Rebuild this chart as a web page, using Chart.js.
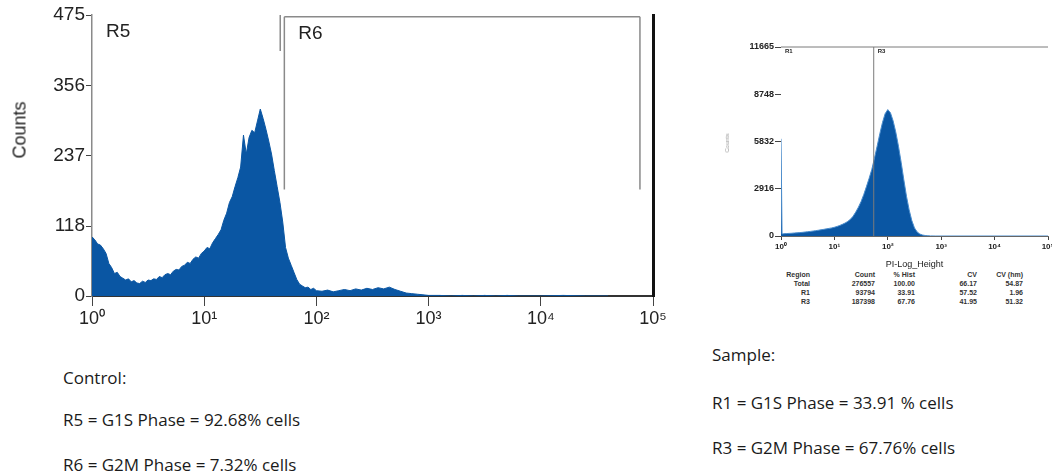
<!DOCTYPE html>
<html>
<head>
<meta charset="utf-8">
<script src="https://cdn.jsdelivr.net/npm/chart.js@4.4.1/dist/chart.umd.min.js"></script>
<style>
  html, body { margin: 0; padding: 0; background: #fff; }
  body { position: relative; width: 1052px; height: 472px; overflow: hidden; font-family: "Liberation Sans", Arial, sans-serif; }
  #controlBox { position: absolute; left: 0; top: 0; width: 680px; height: 340px; }
  #sampleBox { position: absolute; left: 720px; top: 30px; width: 360px; height: 240px; }
  .ylab { position: absolute; white-space: nowrap; transform: translate(-50%, -50%) rotate(-90deg); }
  .note { position: absolute; font-family: "Open Sans", sans-serif; font-size: 17px; line-height: 20px; color: #1a1a1a; white-space: nowrap; }
  .cell { position: absolute; font-size: 7px; font-weight: bold; color: #333; white-space: nowrap; transform: translateX(-100%); line-height: 8px; }
</style>
</head>
<body>
<div id="controlBox"><canvas id="controlChart" width="680" height="340"></canvas></div>
<div id="sampleBox"><canvas id="sampleChart" width="360" height="240"></canvas></div>

<div class="ylab" style="left:20px;top:130px;font-size:18px;color:#222;">Counts</div>
<div class="ylab" style="left:727px;top:143px;font-size:6px;color:#999;">Counts</div>

<div id="statTable"></div>

<div class="note" style="left:63px;top:368px;">Control:</div>
<div class="note" style="left:63px;top:410px;">R5 = G1S Phase = 92.68% cells</div>
<div class="note" style="left:63px;top:455px;">R6 = G2M Phase = 7.32% cells</div>
<div class="note" style="left:712px;top:345px;">Sample:</div>
<div class="note" style="left:712px;top:393px;">R1 = G1S Phase = 33.91 % cells</div>
<div class="note" style="left:712px;top:438px;">R3 = G2M Phase = 67.76% cells</div>

<script>
// control histogram (fluorescence channel, counts)
const controlChannel = [
  1, 1.059, 1.122, 1.189, 1.259, 1.334, 1.413, 1.496, 1.585, 1.679,
  1.778, 1.884, 1.995, 2.113, 2.239, 2.371, 2.512, 2.661, 2.818, 2.985,
  3.162, 3.350, 3.548, 3.758, 3.981, 4.217, 4.467, 4.732, 5.012, 5.309,
  5.623, 5.957, 6.310, 6.683, 7.079, 7.499, 7.943, 8.414, 8.913, 9.441,
  10, 10.59, 11.22, 11.89, 12.59, 13.34, 14.13, 14.96, 15.85, 16.79,
  17.78, 18.84, 19.95, 21.13, 22.39, 23.71, 25.12, 26.61, 28.18, 29.85,
  31.62, 33.50, 35.48, 37.58, 39.81, 42.17, 44.67, 47.32, 50.12, 53.09,
  56.23, 59.57, 63.10, 66.83, 70.79, 74.99, 79.43, 84.14, 89.13, 94.41,
  100, 112.2, 125.9, 141.3, 158.5, 177.8, 199.5, 223.9, 251.2, 281.8,
  316.2, 354.8, 398.1, 446.7, 501.2, 562.3, 631.0, 707.9, 794.3, 891.3,
  1000, 1259, 1585, 1995, 2512, 3162, 3981, 5012, 6310, 10000, 15850, 25120, 39810
];
const controlCounts = [
  100, 95, 88, 86, 80, 72, 55, 48, 38, 40,
  33, 30, 27, 29, 24, 26, 22, 21, 25, 23,
  27, 26, 29, 28, 33, 31, 36, 38, 36, 42,
  45, 44, 50, 52, 57, 55, 62, 66, 64, 72,
  76, 82, 80, 90, 97, 104, 112, 128, 140, 158,
  168, 185, 200, 218, 272, 240, 268, 280, 276, 296,
  316, 300, 282, 262, 240, 212, 185, 158, 125, 82,
  64, 52, 40, 28, 20, 17, 14, 15, 11, 13,
  9, 8, 10, 7, 9, 11, 9, 12, 10, 13,
  11, 14, 12, 15, 11, 8, 5, 4, 3, 2,
  1, 1, 0, 1, 0, 1, 0, 1, 0, 0, 1, 0, 0
];
const controlYTicks = [0, 118, 237, 356, 475];

// sample histogram
const sampleChannel = [
  1, 1.047, 1.122, 1.259, 1.413, 1.585, 1.778, 1.995, 2.239, 2.512,
  2.818, 3.162, 3.548, 3.981, 4.467, 5.012, 5.623, 6.310, 7.079, 7.943,
  8.913, 10, 11.22, 12.59, 14.13, 15.85, 17.78, 19.95, 22.39, 25.12,
  28.18, 31.62, 35.48, 39.81, 44.67, 50.12, 56.23, 63.10, 70.79, 79.43,
  89.13, 100, 112.2, 125.9, 141.3, 158.5, 177.8, 199.5, 223.9, 251.2,
  281.8, 316.2, 354.8, 398.1, 446.7, 501.2, 562.3, 631.0, 794.3, 100000
];
const sampleCounts = [
  6000, 130, 140, 150, 160, 170, 185, 195, 210, 225,
  245, 265, 285, 305, 330, 355, 385, 410, 440, 470,
  500, 540, 590, 650, 720, 800, 900, 1030, 1220, 1480,
  1780, 2130, 2560, 3050, 3560, 4100, 4800, 5540, 6300, 7000,
  7550, 7800, 7600, 7100, 6400, 5540, 4550, 3470, 2450, 1610,
  950, 500, 250, 120, 60, 30, 15, 5, 0, 0
];
const sampleYTicks = [0, 2916, 5832, 8748, 11665];

const decadeTicks = [1, 10, 100, 1000, 10000, 100000];
const decadeLabels = ['10\u2070', '10\u00b9', '10\u00b2', '10\u00b3', '10\u2074', '10\u2075'];

// gating regions (channel bounds, count levels)
const controlRegions = [
  { name: 'R5', from: 1, to: 47.6, level: 475, bar: false, rightDrop: 414 },
  { name: 'R6', from: 51.8, to: 76500, level: 472, bar: true, leftDrop: 180, rightDrop: 180 }
];
const sampleRegions = [
  { name: 'R1', from: 1, to: 100000, level: 11665, bar: true },
  { name: 'R3', from: 54.5, to: 100000, level: 11665, bar: false, leftDrop: 0 }
];

// region table under sample plot
const tableHeader = ['Region', 'Count', '% Hist', 'CV', 'CV (hm)'];
const tableRows = [
  ['Total', '276557', '100.00', '66.17', '54.87'],
  ['R1', '93794', '33.91', '57.52', '1.96'],
  ['R3', '187398', '67.76', '41.95', '51.32']
];

const histBlue = '#0a56a3';

const regionPlugin = {
  id: 'regions',
  afterDatasetsDraw(chart, args, opts) {
    const { ctx } = chart;
    const x = chart.scales.x, y = chart.scales.y;
    ctx.save();
    ctx.strokeStyle = opts.color;
    ctx.lineWidth = opts.lineWidth;
    ctx.fillStyle = opts.textColor;
    ctx.font = opts.font;
    ctx.textBaseline = 'middle';
    opts.regions.forEach((r) => {
      const x0 = x.getPixelForValue(r.from);
      const x1 = x.getPixelForValue(r.to);
      const yl = y.getPixelForValue(r.level);
      ctx.beginPath();
      if (r.bar) { ctx.moveTo(x0, yl); ctx.lineTo(x1, yl); }
      if (r.leftDrop !== undefined) { ctx.moveTo(x0, yl); ctx.lineTo(x0, y.getPixelForValue(r.leftDrop)); }
      if (r.rightDrop !== undefined) { ctx.moveTo(x1, yl); ctx.lineTo(x1, y.getPixelForValue(r.rightDrop)); }
      ctx.stroke();
      ctx.fillText(r.name, x0 + opts.labelDx, yl + opts.labelDy);
    });
    ctx.restore();
  }
};

function makeHist(canvasId, xs, ys, yTicks, regions, cfg) {
  const points = xs.map((v, i) => ({ x: v, y: ys[i] }));
  return new Chart(document.getElementById(canvasId), {
    type: 'line',
    data: {
      datasets: [{
        data: points,
        borderColor: cfg.edge,
        backgroundColor: histBlue,
        borderWidth: 1,
        pointRadius: 0,
        tension: 0,
        fill: 'origin'
      }]
    },
    options: {
      responsive: false,
      animation: false,
      devicePixelRatio: 1,
      layout: { padding: cfg.padding },
      plugins: {
        legend: { display: false },
        tooltip: { enabled: false },
        regions: {
          regions: regions,
          color: cfg.regionColor,
          lineWidth: cfg.regionWidth,
          textColor: '#222',
          font: cfg.regionFont,
          labelDx: cfg.labelDx,
          labelDy: cfg.labelDy
        }
      },
      scales: {
        x: {
          type: 'logarithmic',
          min: 1,
          max: 100000,
          afterBuildTicks: (s) => { s.ticks = decadeTicks.map((v) => ({ value: v })); },
          afterFit: (s) => { s.height = cfg.xHeight; },
          ticks: {
            autoSkip: false,
            maxRotation: 0,
            color: '#222',
            font: { size: cfg.xFont, family: 'Liberation Sans', weight: cfg.xWeight },
            padding: cfg.xPad,
            callback: (v) => decadeLabels[decadeTicks.indexOf(v)]
          },
          grid: { display: true, drawOnChartArea: false, drawTicks: true, tickLength: cfg.xTick, color: '#444', lineWidth: 1 },
          border: { display: true, color: cfg.xBorder, width: cfg.xBorderWidth },
          title: cfg.xTitle ? { display: true, text: cfg.xTitle, color: '#222', font: { size: 9, family: 'Liberation Sans' }, padding: 0 } : { display: false }
        },
        y: {
          type: 'linear',
          min: 0,
          max: yTicks[yTicks.length - 1],
          afterBuildTicks: (s) => { s.ticks = yTicks.map((v) => ({ value: v })); },
          afterFit: (s) => { s.width = cfg.yWidth; },
          ticks: {
            color: '#222',
            font: { size: cfg.yFont, family: 'Liberation Sans', weight: cfg.yWeight },
            padding: 1,
            callback: (v) => String(v)
          },
          grid: { display: true, drawOnChartArea: false, drawTicks: true, tickLength: cfg.yTick, color: '#444', lineWidth: 1 },
          border: { display: cfg.yBorder !== null, color: cfg.yBorder || '#888', width: 1.5 }
        },
        y2: {
          type: 'linear',
          position: 'right',
          display: cfg.rightFrame,
          min: 0,
          max: yTicks[yTicks.length - 1],
          afterFit: (s) => { s.width = 0; },
          ticks: { display: false },
          grid: { display: false },
          border: { display: true, color: '#111', width: 3 }
        }
      }
    },
    plugins: [regionPlugin]
  });
}

makeHist('controlChart', controlChannel, controlCounts, controlYTicks, controlRegions, {
  edge: histBlue,
  padding: { top: 15, right: 27, left: 0, bottom: 0 },
  regionColor: '#8a8a8a', regionWidth: 1.5, regionFont: '19px "Liberation Sans"',
  labelDx: 14, labelDy: 17,
  xHeight: 44, xFont: 18, xWeight: 'normal', xPad: 2, xTick: 10, xBorder: '#333', xBorderWidth: 2,
  yWidth: 92, yFont: 19, yWeight: 'normal', yTick: 6, yBorder: '#8a8a8a',
  rightFrame: true
});

makeHist('sampleChart', sampleChannel, sampleCounts, sampleYTicks, sampleRegions, {
  edge: '#4a8ccc',
  padding: { top: 17, right: 32, left: 0, bottom: 0 },
  regionColor: '#7a7a7a', regionWidth: 1, regionFont: 'bold 6px "Liberation Sans"',
  labelDx: 4, labelDy: 4,
  xHeight: 34, xFont: 8, xWeight: 'bold', xPad: 2, xTick: 4, xBorder: '#666', xBorderWidth: 1,
  xTitle: 'PI-Log_Height',
  yWidth: 61, yFont: 9, yWeight: 'bold', yTick: 6, yBorder: null,
  rightFrame: false
});

// region stats table
const colRight = [810, 875, 915, 977, 1023];
const rowTop = [271, 280, 289, 298];
const table = document.getElementById('statTable');
[tableHeader].concat(tableRows).forEach((row, r) => {
  row.forEach((txt, c) => {
    const d = document.createElement('div');
    d.className = 'cell';
    d.textContent = txt;
    d.style.left = colRight[c] + 'px';
    d.style.top = rowTop[r] + 'px';
    table.appendChild(d);
  });
});
</script>
</body>
</html>
